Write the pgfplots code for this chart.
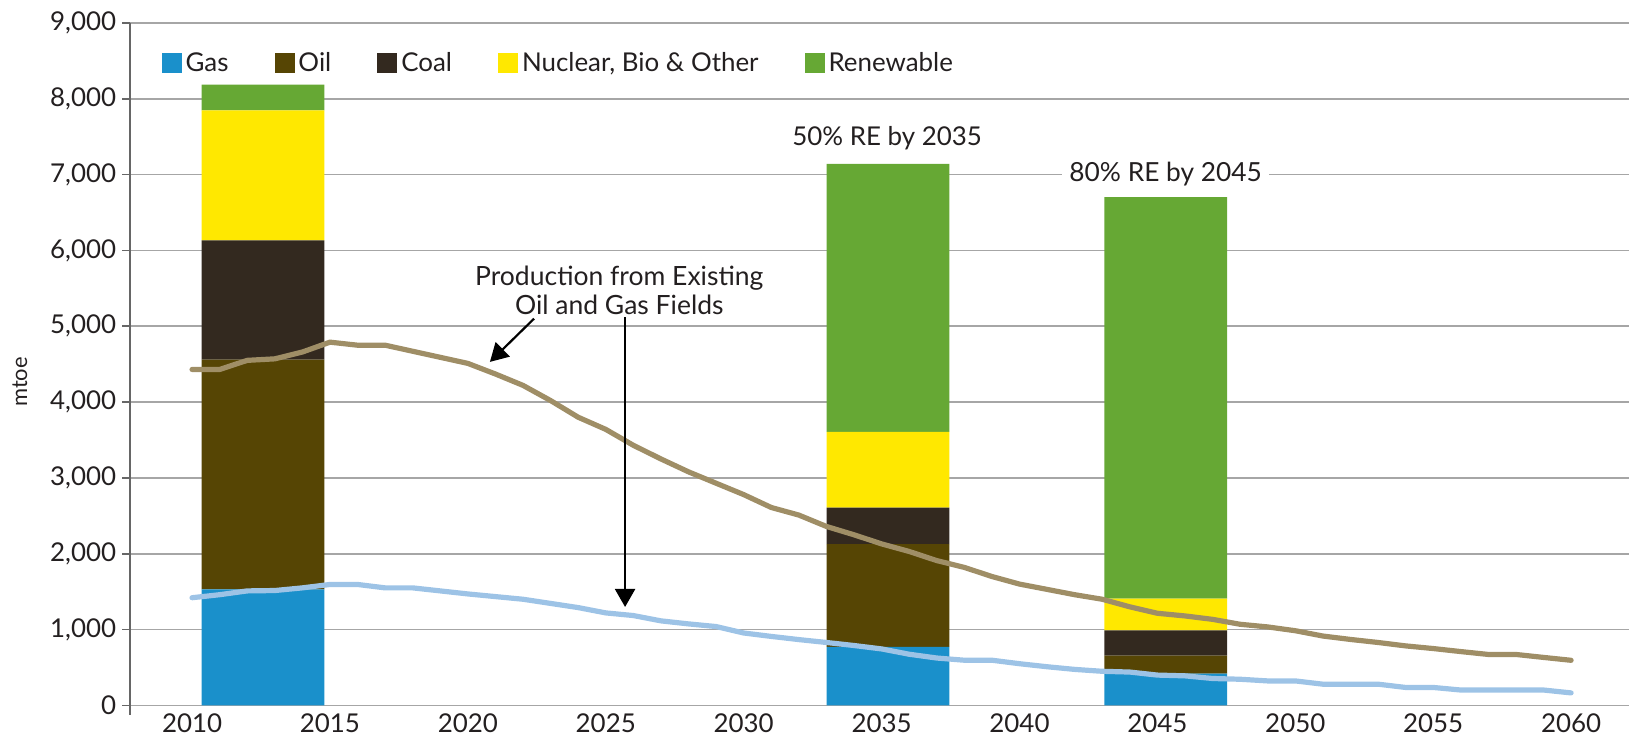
\documentclass[border=0pt]{standalone}
\usepackage{fontspec}
\setmainfont{Lato}
\usepackage{pgfplots}
\pgfplotsset{compat=1.18}
\usetikzlibrary{arrows.meta}

\definecolor{cGas}{HTML}{1A90CB}
\definecolor{cOil}{HTML}{564504}
\definecolor{cCoal}{HTML}{33291F}
\definecolor{cNuc}{HTML}{FFE800}
\definecolor{cRen}{HTML}{66A834}
\definecolor{cLineBrown}{HTML}{9F8E66}
\definecolor{cLineBlue}{HTML}{9DC3E6}
\definecolor{cGrid}{HTML}{A6A6A6}
\definecolor{cTxt}{HTML}{231F20}

\pgfplotsset{
  base/.style={
    scale only axis, width=749.5bp, height=346bp,
    xmin=2007.75, xmax=2062.1, ymin=-125, ymax=9000,
  },
  sw/.style={legend image code/.code={\fill[##1] (0bp,-5bp) rectangle (10bp,5bp);}},
}

\begin{document}
\begin{tikzpicture}
\useasboundingbox (-65bp,-13.05bp) rectangle (749.5bp,357.45bp);
\begin{axis}[base,
  ybar stacked, bar width=4.45,
  axis y line*=left, axis x line*=bottom,
  x axis line style={draw=none},
  y axis line style={draw=black!60, line width=0.9bp, -},
  xtick={2010,2015,...,2060},
  xticklabels={2010,2015,2020,2025,2030,2035,2040,2045,2050,2055,2060},
  ytick={0,1000,...,9000},
  scaled y ticks=false,
  /pgf/number format/assume math mode=true,
  /pgf/number format/1000 sep={,},
  ymajorgrids, grid style={cGrid, line width=0.8bp},
  tick align=outside, major tick length=4bp,
  ytick style={draw=black!60, line width=0.9bp},
  xtick style={draw=none},
  font=\fontsize{13}{15}\selectfont,
  tick label style={text=cTxt},
  yticklabel style={inner sep=0pt, xshift=-2.75bp},
  xticklabel style={inner sep=0pt, yshift=4.7bp},
  ylabel={mtoe},
  ylabel style={at={(axis description cs:-0.0734,0.481)}, anchor=center, font=\fontsize{11}{13}\selectfont, text=cTxt},
  legend style={draw=none, fill=none, at={(axis cs:2008.88,8466)}, anchor=west, legend columns=-1, inner sep=0pt, nodes={inner xsep=2bp, inner ysep=0pt}, /tikz/every even column/.append style={column sep=21bp}, font=\fontsize{13}{15}\selectfont, text=cTxt},
  legend cell align=left,
]
\addplot[sw, fill=cGas, draw=none] coordinates {(2012.57,1530) (2035.23,772) (2045.3,418)};
\addplot[sw, fill=cOil, draw=none] coordinates {(2012.57,3030) (2035.23,1356) (2045.3,237)};
\addplot[sw, fill=cCoal, draw=none] coordinates {(2012.57,1572) (2035.23,480) (2045.3,335)};
\addplot[sw, fill=cNuc, draw=none] coordinates {(2012.57,1714) (2035.23,1000) (2045.3,418)};
\addplot[sw, fill=cRen, draw=none] coordinates {(2012.57,339) (2035.23,3533) (2045.3,5294)};
\legend{Gas,Oil,Coal,{Nuclear, Bio \& Other},Renewable}
\end{axis}

\begin{axis}[base, hide axis, clip=false]
\addplot[cLineBrown, line width=2.6bp, line join=round, line cap=round] coordinates {
(2010,4430) (2011,4430) (2012,4550) (2013,4570) (2014,4660) (2015,4790) (2016,4750) (2017,4750)
(2018,4670) (2019,4590) (2020,4510) (2021,4370) (2022,4220) (2023,4020) (2024,3800) (2025,3640)
(2026,3430) (2027,3250) (2028,3080) (2029,2930) (2030,2780) (2031,2610) (2032,2510) (2033,2360)
(2034,2250) (2035,2130) (2036,2030) (2037,1910) (2038,1820) (2039,1700) (2040,1600) (2041,1530)
(2042,1460) (2043,1400) (2044,1300) (2045,1215) (2046,1180) (2047,1135) (2048,1070) (2049,1035)
(2050,985) (2051,915) (2052,870) (2053,830) (2054,785) (2055,750) (2056,710) (2057,672)
(2058,672) (2059,633) (2060,595)};
\addplot[cLineBlue, line width=2.6bp, line join=round, line cap=round] coordinates {
(2010,1420) (2011,1460) (2012,1510) (2013,1515) (2014,1550) (2015,1595) (2016,1595) (2017,1550)
(2018,1550) (2019,1510) (2020,1470) (2021,1435) (2022,1400) (2023,1345) (2024,1290) (2025,1220)
(2026,1185) (2027,1115) (2028,1075) (2029,1040) (2030,955) (2031,910) (2032,868) (2033,830)
(2034,790) (2035,745) (2036,675) (2037,625) (2038,596) (2039,596) (2040,550) (2041,510)
(2042,475) (2043,450) (2044,440) (2045,400) (2046,390) (2047,355) (2048,345) (2049,323)
(2050,323) (2051,280) (2052,280) (2053,280) (2054,237) (2055,237) (2056,203) (2057,203)
(2058,203) (2059,203) (2060,165)};
\draw[-{Triangle[width=10bp,length=9bp]}, line width=1.1bp] (axis cs:2022.4,5100) -- (axis cs:2020.8,4530);
\draw[-{Triangle[width=10bp,length=9bp]}, line width=1.1bp] (axis cs:2025.7,5119) -- (axis cs:2025.7,1298);
\node[font=\fontsize{13.3}{14.5}\selectfont, align=center, text=cTxt] at (axis cs:2025.49,5478) {Production from Existing\\Oil and Gas Fields};
\node[font=\fontsize{13}{15}\selectfont, text=cTxt] at (axis cs:2035.2,7480) {50\% RE by 2035};
\node[font=\fontsize{13.2}{15}\selectfont, fill=white, inner xsep=3.5bp, inner ysep=1bp, text=cTxt] at (axis cs:2045.3,7000) {80\% RE by 2045};
\end{axis}
\end{tikzpicture}
\end{document}
